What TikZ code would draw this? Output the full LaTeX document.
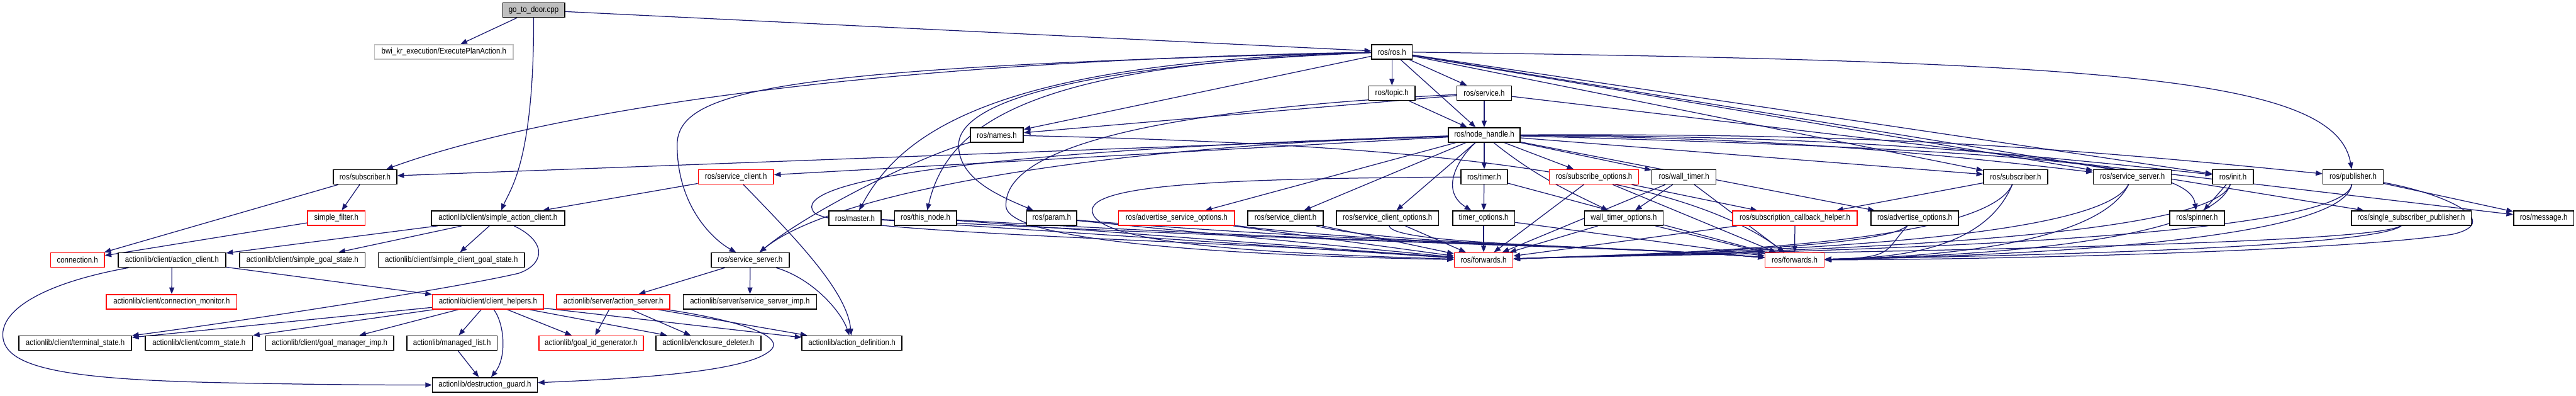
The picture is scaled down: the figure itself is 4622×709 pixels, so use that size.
\documentclass[tikz,border=0pt]{standalone}
\usepackage{fontspec}
\newfontfamily\graphfont[FakeStretch=0.88]{Liberation Sans}
\usetikzlibrary{arrows.meta,backgrounds}
\definecolor{edgeblue}{RGB}{25,25,112}
\definecolor{nodocgray}{RGB}{191,191,191}
\definecolor{rootgray}{RGB}{191,191,191}
\begin{document}
\begin{tikzpicture}[x=0.01cm,y=-0.01cm,
  hdr/.style={rectangle,draw=#1,line width=0.5pt,fill=white,inner xsep=1pt,inner ysep=0pt,minimum height=0.26cm,font={\graphfont\fontsize{4.2pt}{5pt}\selectfont}},
  hdr/.default=black,
  dep/.style={-{Triangle[length=3.4pt,width=2.6pt]},draw=edgeblue,line width=0.4pt},
]
\useasboundingbox (0,0) rectangle (4622,709);

% row 0-1
\node[hdr,fill=rootgray,minimum width=1.11cm] (gotodoor) at (957.5,18) {go\_to\_door.cpp};
\node[hdr=nodocgray,minimum width=2.49cm] (execplan) at (796.5,93) {bwi\_kr\_execution/ExecutePlanAction.h};
\node[hdr,minimum width=0.73cm] (rosh) at (2497.5,93) {ros/ros.h};

% row 2-3
\node[hdr,minimum width=0.83cm] (topic) at (2497.5,167) {ros/topic.h};
\node[hdr,minimum width=0.98cm] (service) at (2663,167) {ros/service.h};
\node[hdr,minimum width=0.95cm] (names) at (1788.5,242) {ros/names.h};
\node[hdr,minimum width=1.28cm] (nodehandle) at (2663,242) {ros/node\_handle.h};

% row 4
\node[hdr,minimum width=1.14cm] (subscrA) at (655,317) {ros/subscriber.h};
\node[hdr=red,minimum width=1.35cm] (svcclientR) at (1320.5,317) {ros/service\_client.h};
\node[hdr,minimum width=0.84cm] (timer) at (2663,317) {ros/timer.h};
\node[hdr=red,minimum width=1.60cm] (subopts) at (2860,317) {ros/subscribe\_options.h};
\node[hdr,minimum width=1.15cm] (walltimer) at (3021.5,317) {ros/wall\_timer.h};
\node[hdr,minimum width=1.15cm] (subscrB) at (3616.5,317) {ros/subscriber.h};
\node[hdr,minimum width=1.40cm] (srvserverB) at (3826,317) {ros/service\_server.h};
\node[hdr,minimum width=0.73cm] (init) at (4006.5,317) {ros/init.h};
\node[hdr,minimum width=1.08cm] (publisher) at (4222,317) {ros/publisher.h};

% row 5
\node[hdr=red,minimum width=1.03cm] (simplefilter) at (603.5,391) {simple\_filter.h};
\node[hdr,minimum width=2.39cm] (simpleactclient) at (893.5,391) {actionlib/client/simple\_action\_client.h};
\node[hdr,minimum width=0.94cm] (master) at (1534,391) {ros/master.h};
\node[hdr,minimum width=1.11cm] (thisnode) at (1660.5,391) {ros/this\_node.h};
\node[hdr,minimum width=0.90cm] (param) at (1887,391) {ros/param.h};
\node[hdr=red,minimum width=2.08cm] (advsrvopts) at (2111,391) {ros/advertise\_service\_options.h};
\node[hdr,minimum width=1.35cm] (svcclientB) at (2306.5,391) {ros/service\_client.h};
\node[hdr,minimum width=1.83cm] (svcclientopts) at (2489.5,391) {ros/service\_client\_options.h};
\node[hdr,minimum width=1.11cm] (timeropts) at (2662,391) {timer\_options.h};
\node[hdr,minimum width=1.41cm] (walltimeropts) at (2913.5,391) {wall\_timer\_options.h};
\node[hdr=red,minimum width=2.23cm] (subcbhelper) at (3220.5,391) {ros/subscription\_callback\_helper.h};
\node[hdr,minimum width=1.57cm] (advopts) at (3435.5,391) {ros/advertise\_options.h};
\node[hdr,minimum width=0.98cm] (spinner) at (3942,391) {ros/spinner.h};
\node[hdr,minimum width=2.15cm] (singlesubpub) at (4326.5,391) {ros/single\_subscriber\_publisher.h};
\node[hdr,minimum width=1.08cm] (message) at (4564,391) {ros/message.h};

% row 6
\node[hdr=red,minimum width=0.96cm] (connection) at (139,466) {connection.h};
\node[hdr,minimum width=1.93cm] (actionclient) at (308.5,466) {actionlib/client/action\_client.h};
\node[hdr,minimum width=2.25cm] (simplegoalstate) at (542.5,466) {actionlib/client/simple\_goal\_state.h};
\node[hdr,minimum width=2.62cm] (simpleclientgoalstate) at (810,466) {actionlib/client/simple\_client\_goal\_state.h};
\node[hdr,minimum width=1.40cm] (srvserverA) at (1346,466) {ros/service\_server.h};
\node[hdr=red,minimum width=1.05cm] (fwdA) at (2662,466) {ros/forwards.h};
\node[hdr=red,minimum width=1.06cm] (fwdB) at (3220,466) {ros/forwards.h};

% row 7
\node[hdr=red,minimum width=2.34cm] (connmonitor) at (308,541) {actionlib/client/connection\_monitor.h};
\node[hdr=red,minimum width=1.99cm] (clienthelpers) at (875.5,541) {actionlib/client/client\_helpers.h};
\node[hdr=red,minimum width=2.03cm] (actionserver) at (1100.5,541) {actionlib/server/action\_server.h};
\node[hdr,minimum width=2.39cm] (srvserverimp) at (1345.5,541) {actionlib/server/service\_server\_imp.h};

% row 8-9
\node[hdr,minimum width=2.02cm] (terminalstate) at (135,615) {actionlib/client/terminal\_state.h};
\node[hdr,minimum width=1.92cm] (commstate) at (357,615) {actionlib/client/comm\_state.h};
\node[hdr,minimum width=2.29cm] (goalmgrimp) at (591.5,615) {actionlib/client/goal\_manager\_imp.h};
\node[hdr,minimum width=1.62cm] (managedlist) at (811,615) {actionlib/managed\_list.h};
\node[hdr=red,minimum width=1.87cm] (goalidgen) at (1060.5,615) {actionlib/goal\_id\_generator.h};
\node[hdr,minimum width=1.88cm] (enclosuredel) at (1271,615) {actionlib/enclosure\_deleter.h};
\node[hdr,minimum width=1.79cm] (actiondef) at (1528.5,615) {actionlib/action\_definition.h};
\node[hdr,minimum width=1.88cm] (destructguard) at (870,690) {actionlib/destruction\_guard.h};

\begin{scope}[on background layer]
% top includes
\draw[dep] (gotodoor) -- (execplan);
\draw[dep] (gotodoor) .. controls (958,290) and (915,340) .. (simpleactclient);
\draw[dep] (gotodoor) -- (rosh);

% ros/ros.h
\draw[dep] (rosh) -- (topic);
\draw[dep] (rosh) -- (service);
\draw[dep] (rosh) -- (nodehandle);
\draw[dep] (rosh) -- (names);
\draw[dep] (rosh) .. controls (1500,110) and (950,210) .. (subscrA);
\draw[dep] (rosh) .. controls (1400,120) and (1215,160) .. (1215,260) .. controls (1215,370) and (1280,430) .. (srvserverA);
\draw[dep] (rosh) .. controls (1800,110) and (1620,230) .. (master);
\draw[dep] (rosh) .. controls (1850,115) and (1700,220) .. (thisnode);
\draw[dep] (rosh) .. controls (1950,115) and (1720,180) .. (1720,260) .. controls (1720,320) and (1790,350) .. (param);
\draw[dep] (rosh) .. controls (3800,110) and (4190,140) .. (publisher);
\draw[dep] (rosh) -- (subscrB);
\draw[dep] (rosh) -- (srvserverB);
\draw[dep] (rosh) -- (init);
\draw[dep] (rosh) -- (singlesubpub);

% ros/topic.h, ros/service.h, ros/names.h
\draw[dep] (topic) -- (nodehandle);
\draw[dep] (service) -- (nodehandle);
\draw[dep] (service) -- (names);
\draw[dep] (service) -- (message);
\draw[dep] (service) .. controls (2000,200) and (1800,280) .. (1805,370) .. controls (1810,440) and (2300,460) .. (fwdA);
\draw[dep] (names) .. controls (1650,280) and (1450,380) .. (srvserverA);
\draw[dep] (names) .. controls (2500,258) and (3000,300) .. (fwdB);

% ros/node_handle.h
\draw[dep] (nodehandle) -- (subscrA);
\draw[dep] (nodehandle) -- (svcclientR);
\draw[dep] (nodehandle) .. controls (2000,260) and (1500,340) .. (srvserverA);
\draw[dep] (nodehandle) .. controls (1700,270) and (1420,330) .. (1460,380) .. controls (1490,420) and (2200,430) .. (fwdA);
\draw[dep] (nodehandle) -- (advsrvopts);
\draw[dep] (nodehandle) -- (svcclientB);
\draw[dep] (nodehandle) -- (svcclientopts);
\draw[dep] (nodehandle) -- (timer);
\draw[dep] (nodehandle) .. controls (2620,280) and (2580,340) .. (timeropts);
\draw[dep] (nodehandle) -- (subopts);
\draw[dep] (nodehandle) -- (walltimer);
\draw[dep] (nodehandle) .. controls (2760,320) and (2830,350) .. (walltimeropts);
\draw[dep] (nodehandle) -- (subscrB);
\draw[dep] (nodehandle) to[bend left=3] (srvserverB);
\draw[dep] (nodehandle) to[bend left=3] (init);
\draw[dep] (nodehandle) .. controls (3700,270) and (3930,300) .. (spinner);
\draw[dep] (nodehandle) to[bend left=3] (publisher);
\draw[dep] (nodehandle) -- (advopts);

% ros headers of row 4
\draw[dep] (timer) -- (timeropts);
\draw[dep] (timer) .. controls (2200,320) and (1950,330) .. (1960,380) .. controls (1970,440) and (2300,455) .. (fwdA);
\draw[dep] (timer) -- (fwdB);
\draw[dep] (subopts) -- (subcbhelper);
\draw[dep] (walltimer) -- (walltimeropts);
\draw[dep] (subscrB) -- (subcbhelper);
\draw[dep] (init) -- (spinner);
\draw[dep] (publisher) -- (message);
\draw[dep] (publisher) .. controls (4400,350) and (4490,400) .. (4400,420) .. controls (4200,450) and (3600,465) .. (fwdB);

% ros/forwards.h
\foreach \src in {master,thisnode,param,advsrvopts,svcclientB,svcclientopts}
  {\draw[dep] (\src) -- (fwdA);
   \draw[dep] (\src) .. controls (2500,440) and (2900,440) .. (fwdB);}
\foreach \src in {timeropts,subopts,walltimer,walltimeropts,subcbhelper}
  {\draw[dep] (\src) -- (fwdA);
   \draw[dep] (\src) -- (fwdB);}
\foreach \src/\cx in {advopts/3380,subscrB/3560,srvserverB/3760,init/3960,singlesubpub/4250,publisher/4200}
  {\draw[dep] (\src) .. controls (\cx,445) and (2950,455) .. (fwdA);
   \draw[dep] (\src) .. controls (\cx,450) and (3400,462) .. (fwdB);}

% actionlib client side
\draw[dep] (subscrA) -- (simplefilter);
\draw[dep] (subscrA) -- (connection);
\draw[dep] (simplefilter) -- (connection);
\draw[dep] (svcclientR) -- (simpleactclient);
\draw[dep] (svcclientR) .. controls (1420,420) and (1520,520) .. (actiondef);
\draw[dep] (simpleactclient) -- (actionclient);
\draw[dep] (simpleactclient) -- (simplegoalstate);
\draw[dep] (simpleactclient) -- (simpleclientgoalstate);
\draw[dep] (simpleactclient) .. controls (985,435) and (975,475) .. (930,490) .. controls (800,520) and (400,580) .. (terminalstate);
\draw[dep] (actionclient) -- (connmonitor);
\draw[dep] (actionclient) -- (clienthelpers);
\draw[dep] (actionclient) .. controls (90,505) and (5,550) .. (5,600) .. controls (5,660) and (120,680) .. (400,686) .. controls (600,690) and (700,690) .. (destructguard);
\draw[dep] (clienthelpers) -- (terminalstate);
\draw[dep] (clienthelpers) -- (commstate);
\draw[dep] (clienthelpers) -- (goalmgrimp);
\draw[dep] (clienthelpers) -- (managedlist);
\draw[dep] (clienthelpers) .. controls (905,580) and (910,640) .. (destructguard);
\draw[dep] (clienthelpers) -- (goalidgen);
\draw[dep] (clienthelpers) -- (enclosuredel);
\draw[dep] (clienthelpers) -- (actiondef);
\draw[dep] (managedlist) -- (destructguard);

% actionlib server side
\draw[dep] (srvserverA) -- (actionserver);
\draw[dep] (srvserverA) -- (srvserverimp);
\draw[dep] (srvserverA) .. controls (1460,500) and (1510,560) .. (actiondef);
\draw[dep] (actionserver) -- (goalidgen);
\draw[dep] (actionserver) -- (enclosuredel);
\draw[dep] (actionserver) -- (actiondef);
\draw[dep] (actionserver) .. controls (1300,570) and (1420,600) .. (1380,630) .. controls (1330,670) and (1100,680) .. (destructguard);
\end{scope}
\end{tikzpicture}
\end{document}
